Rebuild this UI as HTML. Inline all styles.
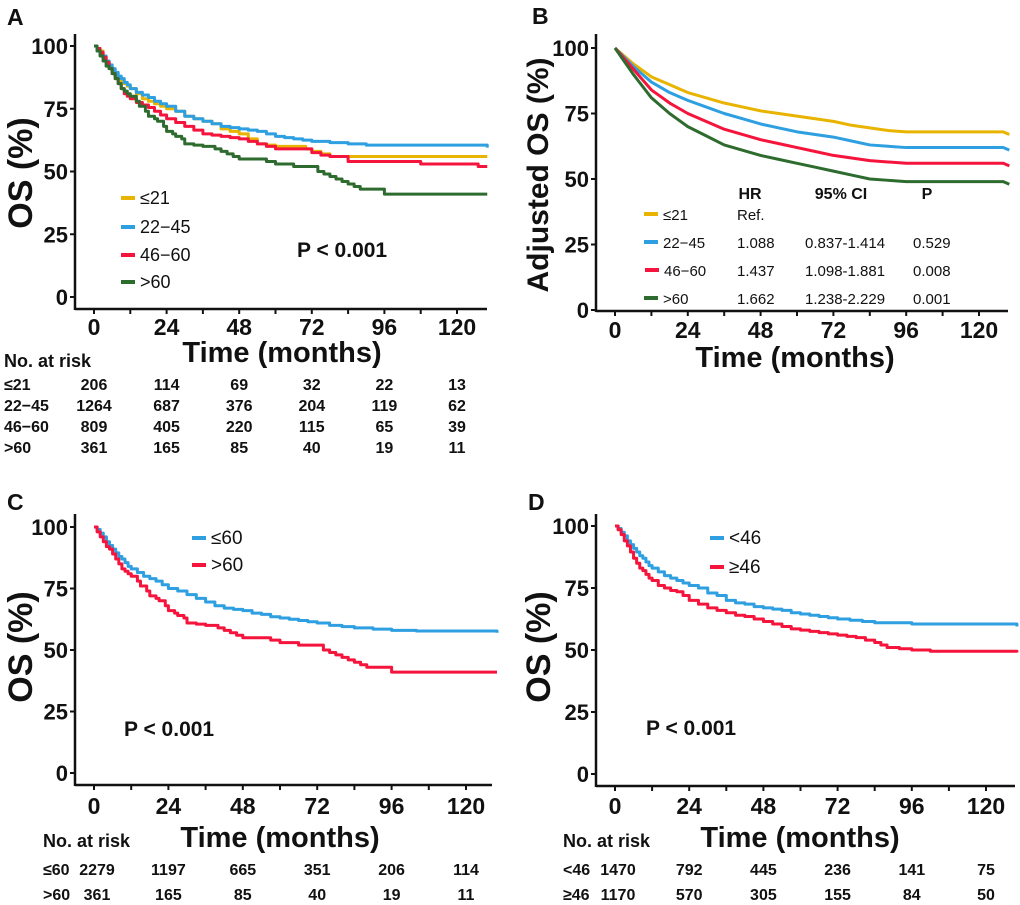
<!DOCTYPE html>
<html><head><meta charset="utf-8"><style>
body{margin:0;background:#fff}
svg{display:block}
text{font-family:"Liberation Sans",Arial,sans-serif;fill:#111}
.b{font-weight:bold}
</style></head><body>
<svg id="fig" width="1020" height="905" viewBox="0 0 1020 905" xmlns="http://www.w3.org/2000/svg"></svg>
<script>
// ---- data (months, survival %) ----
const xTicks=[0,24,48,72,96,120];
const yTicks=[0,25,50,75,100];
const aT1=[0,1,2,3,4,5,6,7,8,9,10,11,12,14,16,18,20,22,24,27,30,33,36,39,42,45,48,51,54,57,60,66,70,72,75,78,130];
const aV1=[100,99,98,96,94,92,90,88,87,86,85,84,83,81,79,78,77,76,75,74,72,71,70,69,67,66,65,63,61,60.5,60,60,59,58,57,56,56];
const aT2=[0,1,2,3,4,5,6,7,8,9,10,11,12,14,16,18,20,22,24,27,30,33,36,39,42,45,48,51,54,57,60,63,66,69,72,78,84,90,96,128,130];
const aV2=[100,99,97.5,96,94,92.5,91,89.5,88,87,85.5,84.5,83,81.5,80.5,79.5,78,77,76,74,72,71,70,69,68,67.5,67,66.5,66,65,64,63.5,63,62.5,62,61.5,61,60.5,60.5,60.5,59.5];
const aT3=[0,1,2,3,4,5,6,7,8,9,10,11,12,14,16,18,20,22,24,27,30,33,36,39,42,45,48,51,54,57,60,66,72,75,78,84,96,108,127,130];
const aV3=[100,99,97.5,95.5,93.5,91,89,87,85,83,81,80,79,77.5,76.5,75.5,74,72.5,71,69.5,68,66.5,65,64.5,64,63.5,63,62,61,60,59,59,57.5,56.5,56,54,54,53,52,52];
const aT4=[0,1,2,3,4,5,6,7,8,9,10,11,12,14,15,17,18,20,21,23,24,26,27,29,30,33,36,40,42,44,46,48,54,57,60,66,72,74,76,78,80,82,84,86,88,96,130];
const aV4=[100,98,96,94,92,91,89,87,85,83,82,81,80,78,76,74,72,71,70,68,66,65,64,63,61,60.5,60,59,58,57,56,55,55,54,53,52,52,50,49,48,47,46,45,44,43,41,41];
const bT=[0,3,6,9,12,15,18,21,24,30,36,42,48,54,60,66,72,78,84,90,96,108,120,128,130];
const bV1=[100,97,94,91.5,89,87.5,86,84.5,83,81,79,77.5,76,75,74,73,72,70.5,69.5,68.5,68,68,68,68,67];
const bV2=[100,96.5,93,90,87,85,83,81.5,80,77.5,75,73,71,69.5,68,67,66,64.5,63,62.5,62,62,62,62,61];
const bV3=[100,96,92,88,84,81.5,79,77,75,72,69,67,65,63.5,62,60.5,59,58,57,56.5,56,56,56,56,55];
const bV4=[100,95,90,85.5,81,78,75,72.5,70,66.5,63,61,59,57.5,56,54.5,53,51.5,50,49.5,49,49,49,49,48];
const cT1=[0,1,2,3,4,5,6,7,8,9,10,11,12,14,16,18,20,22,24,27,30,33,36,39,42,45,48,51,54,57,60,63,66,69,72,76,80,84,90,96,104,128,130];
const cV1=[100,99,97.5,96,94,92.5,91,89.5,88,87,85.5,84,83,81.5,80,79,78,76.5,75,74,72.5,71,69.5,68,67,66.5,66,65,64.5,63.5,63,62.5,62,61.5,61,60,59.5,59,58.5,58,57.7,57.7,57];
const dT1=[0,1,2,3,4,5,6,7,8,9,10,11,12,14,16,18,20,22,24,27,30,33,36,39,42,45,48,51,54,57,60,63,66,69,72,76,80,84,90,96,128,130];
const dV1=[100,99,97.5,96,94,92.5,91,89.5,88,87,85.5,84,83,81.5,80,79,78,77,76,75,73,72,70,69,68.5,67.5,67,66.5,66,65,64.5,64,63.5,63,62.5,62,61.5,61,61,60.5,60.5,59.5];
const dT2=[0,1,2,3,4,5,6,7,8,9,10,11,12,14,16,18,20,22,24,27,30,33,36,39,42,45,48,51,54,57,60,63,66,69,72,75,78,81,84,86,88,92,96,102,128,130];
const dV2=[100,98.5,96.5,94,92,89.5,87,85,83,82,80.5,79,78,76,75,74,73.5,72,70,68.5,67,66,65,64,63.5,62.5,61.5,60.5,59.5,58.5,58,57.5,57,56.5,56,55.5,55,54,53,52,51,50.5,50,49.5,49.5,49];
const riskA=[[206,114,69,32,22,13],[1264,687,376,204,119,62],[809,405,220,115,65,39],[361,165,85,40,19,11]];
const riskC=[[2279,1197,665,351,206,114],[361,165,85,40,19,11]];
const riskD=[[1470,792,445,236,141,75],[1170,570,305,155,84,50]];
const YEL='#E8B400',BLU='#2E9FE0',RED='#F5143C',GRN='#2E6B2E';
const svg=document.getElementById('fig');
const NS='http://www.w3.org/2000/svg';
function mk(tag,attrs,parent,txt){const e=document.createElementNS(NS,tag);for(const k in attrs)e.setAttribute(k,attrs[k]);if(txt!==undefined)e.textContent=txt;(parent||svg).appendChild(e);return e;}
function panel(p){
  const g=mk('g',{});
  
  
  const sx=t=>p.x0+(t)*(p.x120-p.x0)/120;
  const sy=v=>p.y0+(v)*(p.y100-p.y0)/100;
  const lt=mk('text',{x:p.lx,y:p.ly,'font-size':23,class:'b'},g,p.id);
  
  const ya=mk('line',{x1:p.ax,y1:p.top,x2:p.ax,y2:p.xl+1,stroke:'#111','stroke-width':2.5},g);
  
  const xa=mk('line',{x1:p.ax,y1:p.xl,x2:p.xend,y2:p.xl,stroke:'#111','stroke-width':2.5},g);
  
  yTicks.forEach(v=>{
    mk('line',{x1:p.ax-5,y1:sy(v),x2:p.ax,y2:sy(v),stroke:'#111','stroke-width':2},g);
    const t=mk('text',{x:p.ax-7,y:sy(v)+8,'font-size':22,'text-anchor':'end',class:'b'},g,v);
    
  });
  for(let m=0;m<=120;m+=12){mk('line',{x1:sx(m),y1:p.xl,x2:sx(m),y2:p.xl+5,stroke:'#111','stroke-width':2},g);}
  xTicks.forEach(m=>{
    const t=mk('text',{x:sx(m),y:p.tb,'font-size':23,'text-anchor':'middle',class:'b'},g,m);
    
  });
  const xt=mk('text',{x:p.ttx,y:p.tty,'font-size':29,'text-anchor':'middle',class:'b'},g,'Time (months)');
  
  const yt=mk('text',{x:0,y:0,'font-size':p.yfs,'text-anchor':'middle',class:'b',transform:`translate(${p.ytx},${p.yty}) rotate(-90)`},g,p.ytitle);
  
  p.series.forEach(s=>{
    let d='';
    s.t.forEach((t,i)=>{
      const X=sx(t),Y=sy(s.v[i]);
      if(i===0)d='M'+X+' '+Y;
      else if(p.step)d+=' H'+X+' V'+Y;
      else d+=' L'+X+' '+Y;
    });
    const path=mk('path',{d:d,fill:'none',stroke:s.c,'stroke-width':3,'stroke-linejoin':'round'},g);
    
    
  });
  p.legend.forEach(L=>{
    const lg=mk('g',{},g);
    
    
    mk('line',{x1:L.x,y1:L.y,x2:L.x+14,y2:L.y,stroke:L.c,'stroke-width':4},lg);
    mk('text',{x:L.x+19,y:L.y+6,'font-size':p.lfs},lg,L.label);
  });
  if(p.px){const pt=mk('text',{x:p.px,y:p.py,'font-size':21,class:'b'},g,'P < 0.001');
    }
  if(p.risk){
    const rh=mk('text',{x:p.rx,y:p.rhy,'font-size':18,class:'b'},g,'No. at risk');
    
    p.risk.forEach((row,r)=>{
      const ry=p.ry[r];
      const lab=mk('text',{x:p.rx,y:ry,'font-size':16,class:'b'},g,p.rlabels[r]);
      
      row.forEach((n,i)=>{
        const X=i===0&&p.firstX?p.firstX:sx(xTicks[i]);
        const c=mk('text',{x:X,y:ry,'font-size':16,'text-anchor':'middle',class:'b'},g,n);
        
      });
    });
  }
  return {g,sx,sy};
}
panel({id:'A',lx:7,ly:25,ax:75,top:34,xl:309,xend:487,x0:94,x120:457,y0:297,y100:46,tb:335,ttx:282,tty:362,
  ytitle:'OS (%)',yfs:34,ytx:32,yty:173,step:true,lfs:18,
  series:[{name:'le21',t:aT1,v:aV1,c:YEL},{name:'22-45',t:aT2,v:aV2,c:BLU},{name:'46-60',t:aT3,v:aV3,c:RED},{name:'gt60',t:aT4,v:aV4,c:GRN}],
  legend:[{x:121,y:198,c:YEL,label:'≤21'},{x:121,y:227,c:BLU,label:'22−45'},{x:121,y:255,c:RED,label:'46−60'},{x:121,y:282,c:GRN,label:'>60'}],
  px:297,py:257,risk:riskA,rx:4,rhy:367,ry:[390,411,432,453],rlabels:['≤21','22−45','46−60','>60']});
panel({id:'B',lx:532,ly:24,ax:596,top:34,xl:311,xend:1008,x0:615,x120:979,y0:310,y100:48,tb:338,ttx:795,tty:367,
  ytitle:'Adjusted OS (%)',yfs:30,ytx:548,yty:175,step:false,lfs:15,
  series:[{name:'le21',t:bT,v:bV1,c:YEL},{name:'22-45',t:bT,v:bV2,c:BLU},{name:'46-60',t:bT,v:bV3,c:RED},{name:'gt60',t:bT,v:bV4,c:GRN}],
  legend:[{x:644,y:214,c:YEL,label:'≤21'},{x:644,y:242,c:BLU,label:'22−45'},{x:645,y:270,c:RED,label:'46−60'},{x:644,y:298,c:GRN,label:'>60'}]});
// HR table in panel B
const hrRows=[['Ref.','',''],['1.088','0.837-1.414','0.529'],['1.437','1.098-1.881','0.008'],['1.662','1.238-2.229','0.001']];
const tb=mk('g',{});


mk('text',{x:750,y:199,'font-size':16,'text-anchor':'middle',class:'b'},tb,'HR');
mk('text',{x:841,y:199,'font-size':16,'text-anchor':'middle',class:'b'},tb,'95% CI');
mk('text',{x:927,y:199,'font-size':16,'text-anchor':'middle',class:'b'},tb,'P');
[220,248,276,304].forEach((y,r)=>{
  mk('text',{x:737,y:y,'font-size':15},tb,hrRows[r][0]);
  mk('text',{x:805,y:y,'font-size':15},tb,hrRows[r][1]);
  mk('text',{x:913,y:y,'font-size':15},tb,hrRows[r][2]);
});
panel({id:'C',lx:7,ly:510,ax:75,top:514,xl:785,xend:492,x0:94,x120:466,y0:773,y100:527,tb:814,ttx:280,tty:847,
  ytitle:'OS (%)',yfs:34,ytx:32,yty:647,step:true,lfs:19,
  series:[{name:'le60',t:cT1,v:cV1,c:BLU},{name:'gt60',t:aT4,v:aV4,c:RED}],
  legend:[{x:192,y:538,c:BLU,label:'≤60'},{x:192,y:565,c:RED,label:'>60'}],
  px:124,py:736,risk:riskC,rx:43,rhy:847,ry:[875,900],rlabels:['≤60','>60'],firstX:97});
panel({id:'D',lx:528,ly:510,ax:596,top:514,xl:786,xend:1015,x0:615,x120:986,y0:774,y100:526,tb:814,ttx:800,tty:847,
  ytitle:'OS (%)',yfs:34,ytx:550,yty:647,step:true,lfs:19,
  series:[{name:'lt46',t:dT1,v:dV1,c:BLU},{name:'ge46',t:dT2,v:dV2,c:RED}],
  legend:[{x:710,y:538,c:BLU,label:'<46'},{x:710,y:567,c:RED,label:'≥46'}],
  px:646,py:735,risk:riskD,rx:563,rhy:847,ry:[875,900],rlabels:['<46','≥46'],firstX:618});
</script>
</body></html>
